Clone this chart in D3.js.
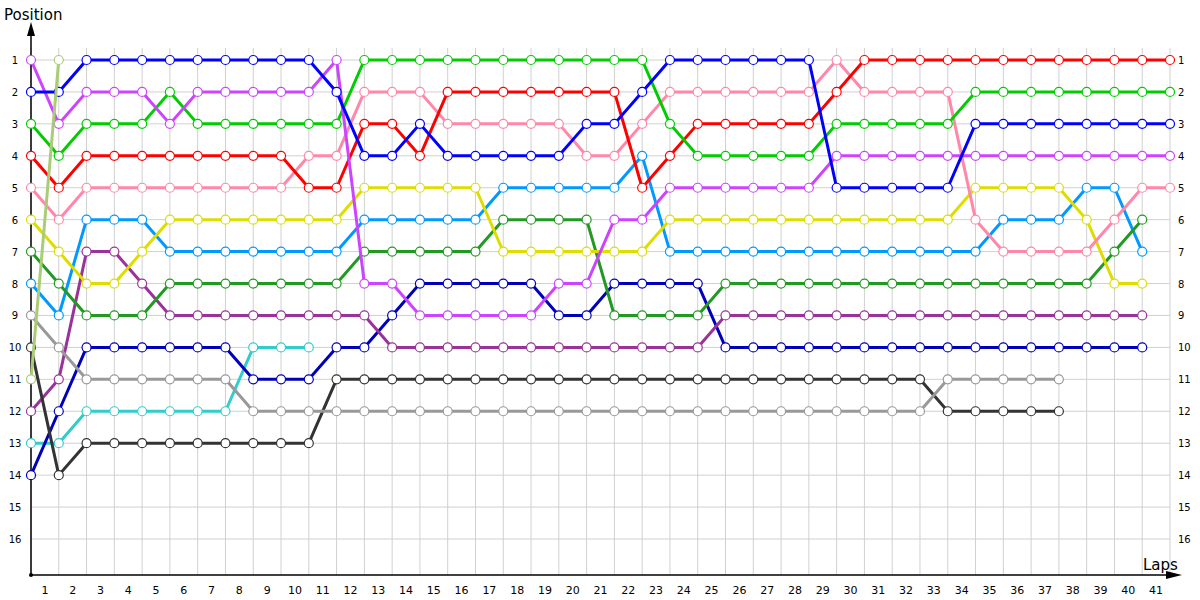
<!DOCTYPE html>
<html>
<head>
<meta charset="utf-8">
<script src="https://cdn.jsdelivr.net/npm/d3@7"></script>
<style>
body { margin: 0; background: #fff; }
svg { font-family: "DejaVu Sans", Verdana, sans-serif; }
.grid line { stroke: #d0d0d0; stroke-width: 1; }
.tick-label { font-size: 11px; fill: #000; }
</style>
</head>
<body>
<svg width="1200" height="600"></svg>
<script>
// positions at start (index 0) and after each lap 1..41; null = not running
var drivers = ["blue", "violet", "green", "red", "pink", "yellow", "darkgreen",
               "lightblue", "gray", "darkgray", "olive", "purple", "navy", "teal"];

var colors = ["#0000ff", "#cc44ff", "#00cc00", "#ff0000", "#ff88aa", "#dddd00", "#229922",
              "#0099ff", "#999999", "#333333", "#aacc77", "#993399", "#0000bb", "#33cccc"];

var blue      = [2,2,1,1,1,1,1,1,1,1,1,2,4,4,3,4,4,4,4,4,3,3,2,1,1,1,1,1,1,5,5,5,5,5,3,3,3,3,3,3,3,3];
var violet    = [1,3,2,2,2,3,2,2,2,2,2,1,8,8,9,9,9,9,9,8,8,6,6,5,5,5,5,5,5,4,4,4,4,4,4,4,4,4,4,4,4,4];
var green     = [3,4,3,3,3,2,3,3,3,3,3,3,1,1,1,1,1,1,1,1,1,1,1,3,4,4,4,4,4,3,3,3,3,3,2,2,2,2,2,2,2,2];
var red       = [4,5,4,4,4,4,4,4,4,4,5,5,3,3,4,2,2,2,2,2,2,2,5,4,3,3,3,3,3,2,1,1,1,1,1,1,1,1,1,1,1,1];
var pink      = [5,6,5,5,5,5,5,5,5,5,4,4,2,2,2,3,3,3,3,3,4,4,3,2,2,2,2,2,2,1,2,2,2,2,6,7,7,7,7,6,5,5];
var yellow    = [6,7,8,8,7,6,6,6,6,6,6,6,5,5,5,5,5,7,7,7,7,7,7,6,6,6,6,6,6,6,6,6,6,6,5,5,5,5,6,8,8,null];
var darkgreen = [7,8,9,9,9,8,8,8,8,8,8,8,7,7,7,7,7,6,6,6,6,9,9,9,9,8,8,8,8,8,8,8,8,8,8,8,8,8,8,7,6,null];
var lightblue = [8,9,6,6,6,7,7,7,7,7,7,7,6,6,6,6,6,5,5,5,5,5,4,7,7,7,7,7,7,7,7,7,7,7,7,6,6,6,5,5,7,null];
var gray      = [9,10,11,11,11,11,11,11,12,12,12,12,12,12,12,12,12,12,12,12,12,12,12,12,12,12,12,12,12,12,12,12,12,11,11,11,11,11,null,null,null,null];
var darkgray  = [10,14,13,13,13,13,13,13,13,13,13,11,11,11,11,11,11,11,11,11,11,11,11,11,11,11,11,11,11,11,11,11,11,12,12,12,12,12,null,null,null,null];
var olive     = [11,1];
var purple    = [12,11,7,7,8,9,9,9,9,9,9,9,9,10,10,10,10,10,10,10,10,10,10,10,10,9,9,9,9,9,9,9,9,9,9,9,9,9,9,9,9,null];
var navy      = [14,12,10,10,10,10,10,10,11,11,11,10,10,9,8,8,8,8,8,9,9,8,8,8,8,10,10,10,10,10,10,10,10,10,10,10,10,10,10,10,10,null];
var teal      = [13,13,12,12,12,12,12,12,10,10,10];

var series = [blue, violet, green, red, pink, yellow, darkgreen,
              lightblue, gray, darkgray, olive, purple, navy, teal];

var lapLabels = d3.range(1, 42);
var positionLabels = d3.range(1, 17);

var svg = d3.select("svg");

var x = d3.scaleLinear().domain([0, 41]).range([31, 1170]);
var y = d3.scaleLinear().domain([1, 16]).range([60, 539]);
var axisY = 575;

// grid
var grid = svg.append("g").attr("class", "grid");
grid.selectAll("line.v")
    .data(d3.range(0, 42))
    .enter().append("line")
    .attr("class", "v")
    .attr("x1", function(d){ return x(d); })
    .attr("x2", function(d){ return x(d); })
    .attr("y1", 48)
    .attr("y2", axisY);
grid.selectAll("line.h")
    .data(positionLabels)
    .enter().append("line")
    .attr("class", "h")
    .attr("x1", x(0))
    .attr("x2", x(41))
    .attr("y1", function(d){ return y(d); })
    .attr("y2", function(d){ return y(d); });

// axes
svg.append("line")
    .attr("x1", x(0)).attr("x2", 1172)
    .attr("y1", axisY).attr("y2", axisY)
    .attr("stroke", "#000").attr("stroke-width", 1.5);
svg.append("path")
    .attr("d", "M1182," + axisY + " L1166," + (axisY - 4) + " L1166," + (axisY + 4) + " Z")
    .attr("fill", "#000");
svg.append("line")
    .attr("x1", x(0)).attr("x2", x(0))
    .attr("y1", axisY).attr("y2", 32)
    .attr("stroke", "#000").attr("stroke-width", 1.5);
svg.append("path")
    .attr("d", "M" + x(0) + ",22 L" + (x(0) - 4) + ",36 L" + (x(0) + 4) + ",36 Z")
    .attr("fill", "#000");
svg.append("circle")
    .attr("cx", x(0)).attr("cy", axisY).attr("r", 2).attr("fill", "#000");

svg.append("text")
    .attr("x", 4).attr("y", 20)
    .style("font-size", "15px")
    .text("Position");
svg.append("text")
    .attr("x", 1143).attr("y", 570)
    .style("font-size", "15px")
    .text("Laps");

// tick labels
svg.selectAll("text.xl")
    .data(lapLabels)
    .enter().append("text")
    .attr("class", "tick-label")
    .attr("x", function(d){ return x(d - 0.5); })
    .attr("y", 594)
    .attr("text-anchor", "middle")
    .text(function(d){ return d; });

svg.selectAll("text.yl")
    .data(positionLabels)
    .enter().append("text")
    .attr("class", "tick-label")
    .attr("x", 15)
    .attr("y", function(d){ return y(d) + 4; })
    .attr("text-anchor", "middle")
    .style("font-size", "10px")
    .text(function(d){ return d; });

svg.selectAll("text.yr")
    .data(positionLabels)
    .enter().append("text")
    .attr("class", "tick-label")
    .attr("x", 1178)
    .attr("y", function(d){ return y(d) + 4; })
    .style("font-size", "10px")
    .text(function(d){ return d; });

// lap lines
var line = d3.line()
    .defined(function(d){ return d != null; })
    .x(function(d, i){ return x(i); })
    .y(function(d){ return y(d); });

// back to front, the first-lap olive streak sits on top
var order = [13, 12, 11, 9, 8, 7, 6, 5, 4, 3, 2, 1, 0, 10];

order.forEach(function(k)
{
    var g = svg.append("g").attr("class", "driver " + drivers[k]);
    g.append("path")
        .attr("d", line(series[k]))
        .attr("fill", "none")
        .attr("stroke", colors[k])
        .attr("stroke-width", 3)
        .attr("stroke-linejoin", "round");
    g.selectAll("circle")
        .data(series[k].map(function(v, i){ return { lap: i, pos: v }; })
              .filter(function(d){ return d.pos != null; }))
        .enter().append("circle")
        .attr("cx", function(d){ return x(d.lap); })
        .attr("cy", function(d){ return y(d.pos); })
        .attr("r", 4.5)
        .attr("fill", "#fff")
        .attr("stroke", colors[k])
        .attr("stroke-width", 1.2);
});
</script>
</body>
</html>
